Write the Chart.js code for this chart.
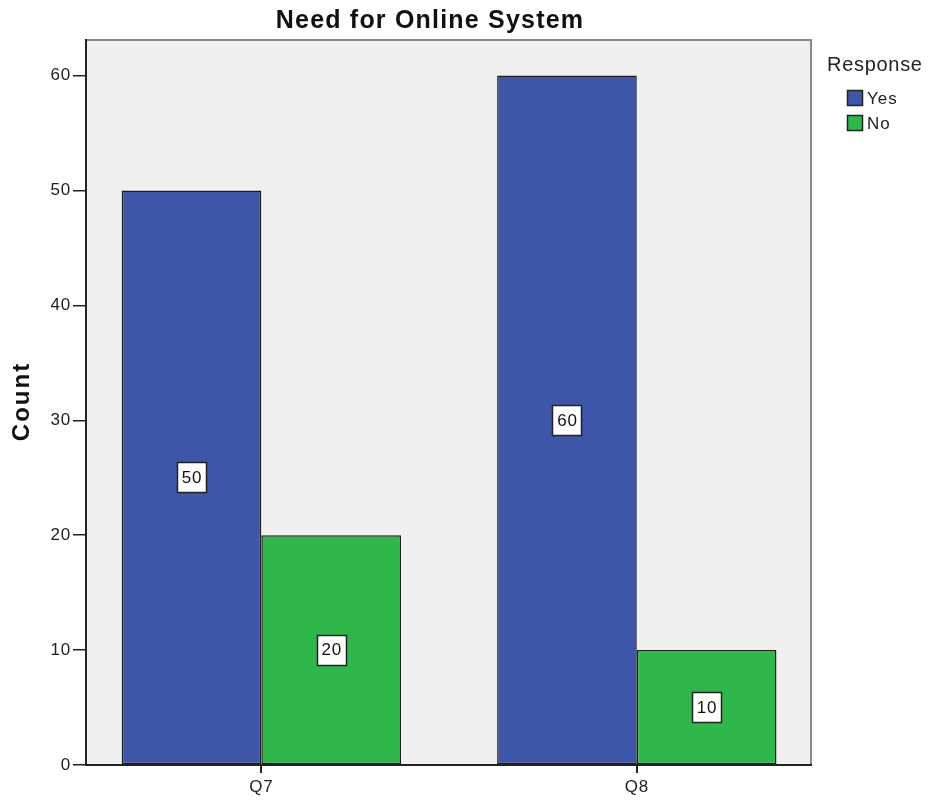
<!DOCTYPE html>
<html>
<head>
<meta charset="utf-8">
<script src="https://cdn.jsdelivr.net/npm/chart.js@4/dist/chart.umd.min.js"></script>
<style>
  html, body { margin: 0; padding: 0; background: #ffffff; }
  #wrap { width: 932px; height: 800px; position: relative; }
</style>
</head>
<body>
<div id="wrap"><canvas id="chart" width="932" height="800"></canvas></div>
<script>
// Survey responses per question
const categories = ['Q7', 'Q8'];
const responses = ['Yes', 'No'];
const yesCounts = [50, 60];
const noCounts = [20, 10];
const yTicks = [0, 10, 20, 30, 40, 50, 60];

const chartTitle = 'Need for Online System';
const legendTitle = 'Response';
const axisTitle = 'Count';
const colors = ['#3d56a7', '#2fb74b'];

const FONT = '"Liberation Sans", Arial, sans-serif';

const seriesValues = [yesCounts, noCounts];
const datasets = responses.map((name, i) => ({
  label: name,
  data: seriesValues[i].map((v, j) => ({ x: j, y: v })),
  backgroundColor: colors[i],
  borderColor: '#1e1e1e',
  borderWidth: 1.5,
  borderSkipped: false,
  categoryPercentage: 0.744,
  barPercentage: 1.0
}));

function spaced(ctx, px) {
  if ('letterSpacing' in ctx) ctx.letterSpacing = px + 'px';
}

// Plot panel: grey fill, grey top/right frame, slightly tracked text
const panelPlugin = {
  id: 'panel',
  beforeDraw(chart) {
    const { ctx, chartArea: a } = chart;
    spaced(ctx, 0.8);
    ctx.save();
    ctx.fillStyle = '#f0f0f0';
    ctx.fillRect(a.left, a.top, a.right - a.left, a.bottom - a.top);
    ctx.strokeStyle = '#8a8a8a';
    ctx.lineWidth = 2;
    ctx.beginPath();
    ctx.moveTo(a.left, a.top);
    ctx.lineTo(a.right, a.top);
    ctx.lineTo(a.right, a.bottom);
    ctx.stroke();
    ctx.restore();
  },
  afterDraw(chart) {
    const { ctx, chartArea: a } = chart;
    ctx.save();

    // category tick marks below the axis
    const xs = chart.scales.x;
    ctx.strokeStyle = '#222222';
    ctx.lineWidth = 2;
    categories.forEach((_, i) => {
      const px = Math.round(xs.getPixelForValue(i));
      ctx.beginPath();
      ctx.moveTo(px, a.bottom);
      ctx.lineTo(px, a.bottom + 8);
      ctx.stroke();
    });

    // chart title
    ctx.fillStyle = '#111111';
    spaced(ctx, 1.2);
    ctx.font = 'bold 25px ' + FONT;
    ctx.textAlign = 'center';
    ctx.textBaseline = 'alphabetic';
    ctx.fillText(chartTitle, 430, 28);

    // value axis title
    ctx.save();
    spaced(ctx, 2);
    ctx.font = 'bold 24px ' + FONT;
    ctx.translate(29, (a.top + a.bottom) / 2);
    ctx.rotate(-Math.PI / 2);
    ctx.textAlign = 'center';
    ctx.fillText(axisTitle, 1, 0);
    ctx.restore();

    // legend
    ctx.textAlign = 'left';
    spaced(ctx, 0.7);
    ctx.font = '20px ' + FONT;
    ctx.fillStyle = '#222222';
    ctx.fillText(legendTitle, a.right + 16, 71);
    spaced(ctx, 1);
    ctx.font = '17px ' + FONT;
    chart.data.datasets.forEach((ds, i) => {
      const y = 90 + i * 25;
      ctx.fillStyle = ds.backgroundColor;
      ctx.fillRect(a.right + 36, y, 16, 16);
      ctx.strokeStyle = '#222222';
      ctx.lineWidth = 1.5;
      ctx.strokeRect(a.right + 36.5, y + 0.5, 15, 15);
      ctx.fillStyle = '#222222';
      ctx.textBaseline = 'middle';
      ctx.fillText(ds.label, a.right + 56, y + 9);
    });
    ctx.restore();
  }
};

// Value labels in white boxes at each bar's middle
const valueLabelPlugin = {
  id: 'valueLabels',
  afterDatasetsDraw(chart) {
    const { ctx } = chart;
    ctx.save();
    spaced(ctx, 0.8);
    ctx.font = '17px ' + FONT;
    ctx.textAlign = 'center';
    ctx.textBaseline = 'middle';
    chart.data.datasets.forEach((ds, di) => {
      const meta = chart.getDatasetMeta(di);
      meta.data.forEach((bar, j) => {
        const text = String(ds.data[j].y);
        const cx = bar.x;
        const cy = (bar.y + bar.base) / 2;
        const w = 29;
        const h = 30;
        const x0 = Math.round(cx - w / 2) + 0.5;
        const y0 = Math.round(cy - h / 2) + 0.5;
        ctx.fillStyle = '#ffffff';
        ctx.fillRect(x0, y0, w, h);
        ctx.strokeStyle = '#222222';
        ctx.lineWidth = 1.5;
        ctx.strokeRect(x0, y0, w, h);
        ctx.fillStyle = '#111111';
        ctx.fillText(text, cx + 0.5, cy + 1);
      });
    });
    ctx.restore();
  }
};

new Chart(document.getElementById('chart'), {
  type: 'bar',
  data: { datasets },
  plugins: [panelPlugin, valueLabelPlugin],
  options: {
    responsive: false,
    animation: false,
    layout: { padding: { top: 40, right: 121, bottom: 0, left: 0 } },
    plugins: {
      legend: { display: false },
      title: { display: false },
      tooltip: { enabled: false }
    },
    scales: {
      x: {
        type: 'linear',
        min: -0.467,
        max: 1.464,
        offset: false,
        afterBuildTicks(scale) {
          scale.ticks = categories.map((_, i) => ({ value: i }));
        },
        afterFit(scale) { scale.height = 35; },
        ticks: {
          callback: (v) => categories[v],
          color: '#222222',
          font: { family: FONT, size: 17 },
          padding: 3,
          maxRotation: 0,
          autoSkip: false
        },
        grid: {
          display: true,
          offset: false,
          drawOnChartArea: false,
          drawTicks: true,
          tickLength: 9,
          color: 'rgba(0,0,0,0)',
          lineWidth: 2
        },
        border: { display: true, color: '#222222', width: 2 }
      },
      y: {
        min: 0,
        max: 63.1,
        afterBuildTicks(scale) {
          scale.ticks = yTicks.map(v => ({ value: v }));
        },
        afterFit(scale) { scale.width = 86; },
        ticks: {
          color: '#222222',
          font: { family: FONT, size: 17 },
          padding: 2,
          includeBounds: false
        },
        grid: {
          display: true,
          drawOnChartArea: false,
          drawTicks: true,
          tickLength: 13,
          color: '#222222',
          lineWidth: 1.5
        },
        border: { display: true, color: '#222222', width: 2 },
        title: { display: false }
      }
    }
  }
});
</script>
</body>
</html>
